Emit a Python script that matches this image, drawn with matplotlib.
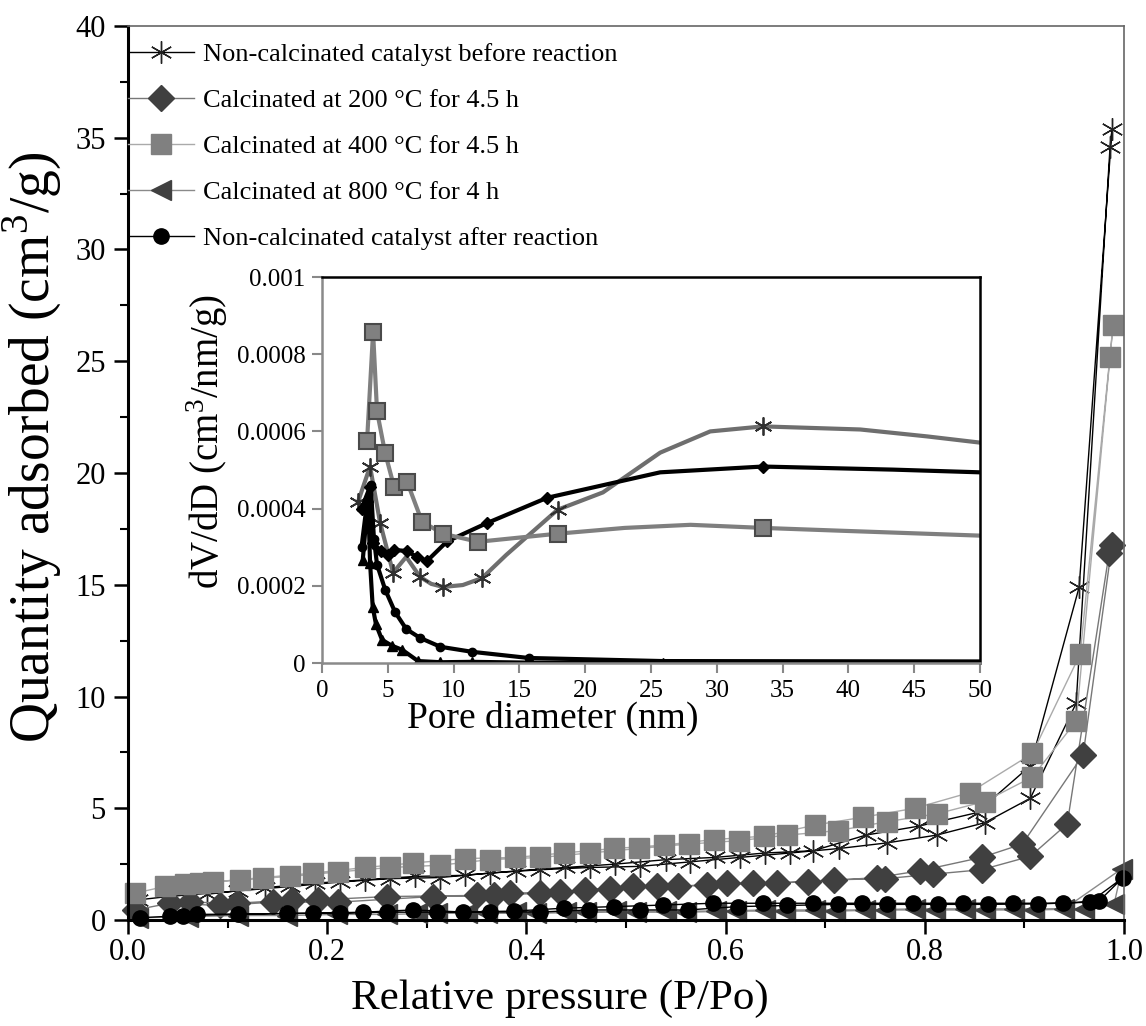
import matplotlib
matplotlib.use("Agg")
import matplotlib.pyplot as plt
from matplotlib.ticker import MultipleLocator

plt.rcParams['font.family'] = ['Liberation Serif', 'DejaVu Serif']
plt.rcParams['mathtext.fontset'] = 'custom'
plt.rcParams['mathtext.rm'] = 'Liberation Serif'

labels = ['Non-calcinated catalyst before reaction',
          'Calcinated at 200 °C for 4.5 h',
          'Calcinated at 400 °C for 4.5 h',
          'Calcinated at 800 °C for 4 h',
          'Non-calcinated catalyst after reaction']

# isotherms: adsorption branch then desorption branch (P/Po, cm3/g)
before_ads_x = [0.010, 0.040, 0.110, 0.163, 0.213, 0.263, 0.313, 0.363, 0.414, 0.464, 0.514, 0.564,
                0.614, 0.665, 0.714, 0.762, 0.812, 0.860, 0.906, 0.952, 0.986]
before_ads_y = [0.9, 1.05, 1.3, 1.5, 1.7, 1.85, 1.9, 2.1, 2.25, 2.35, 2.4, 2.6,
                2.8, 3.0, 3.2, 3.45, 3.8, 4.35, 5.45, 9.7, 34.6]
before_des_x = [0.988, 0.955, 0.906, 0.852, 0.794, 0.741, 0.688, 0.640, 0.589, 0.540, 0.489, 0.439,
                0.390, 0.338, 0.288, 0.238, 0.188, 0.138, 0.079]
before_des_y = [35.4, 14.9, 6.9, 4.8, 4.2, 3.8, 3.1, 3.0, 2.8, 2.7, 2.5, 2.35,
                2.2, 2.0, 1.95, 1.8, 1.65, 1.45, 1.15]

c200_ads_x = [0.007, 0.042, 0.092, 0.146, 0.211, 0.306, 0.367, 0.414, 0.459, 0.507, 0.552, 0.601,
              0.652, 0.709, 0.760, 0.808, 0.857, 0.906, 0.943, 0.985]
c200_ads_y = [0.45, 0.75, 0.65, 0.8, 0.8, 1.05, 1.1, 1.2, 1.35, 1.5, 1.5, 1.65,
              1.65, 1.8, 1.85, 2.05, 2.25, 2.85, 4.3, 16.4]
c200_des_x = [0.988, 0.959, 0.898, 0.857, 0.795, 0.752, 0.683, 0.628, 0.581, 0.531, 0.484, 0.434,
              0.384, 0.350, 0.260, 0.191, 0.165, 0.109, 0.062]
c200_des_y = [16.8, 7.4, 3.4, 2.8, 2.2, 1.9, 1.7, 1.65, 1.55, 1.5, 1.4, 1.25,
              1.2, 1.1, 1.05, 0.9, 0.9, 0.75, 0.8]

c400_ads_x = [0.007, 0.037, 0.072, 0.112, 0.163, 0.211, 0.263, 0.313, 0.363, 0.414, 0.464, 0.513,
              0.563, 0.613, 0.662, 0.713, 0.762, 0.812, 0.860, 0.908, 0.952, 0.986]
c400_ads_y = [1.2, 1.5, 1.65, 1.8, 1.95, 2.15, 2.35, 2.45, 2.7, 2.8, 3.0, 3.2,
              3.4, 3.55, 3.8, 4.0, 4.4, 4.75, 5.3, 6.4, 8.9, 25.2]
c400_des_x = [0.989, 0.956, 0.908, 0.845, 0.790, 0.738, 0.690, 0.639, 0.588, 0.538, 0.488, 0.438,
              0.389, 0.338, 0.286, 0.238, 0.186, 0.136, 0.085, 0.057]
c400_des_y = [26.6, 11.9, 7.45, 5.7, 5.0, 4.6, 4.25, 3.75, 3.6, 3.35, 3.2, 3.0,
              2.8, 2.75, 2.55, 2.35, 2.1, 1.9, 1.7, 1.6]

c800_ads_x = [0.010, 0.060, 0.110, 0.160, 0.210, 0.260, 0.310, 0.360, 0.410, 0.460, 0.510, 0.560,
              0.610, 0.660, 0.710, 0.760, 0.810, 0.860, 0.910, 0.960, 0.990]
c800_ads_y = [0.1, 0.15, 0.2, 0.2, 0.25, 0.25, 0.3, 0.3, 0.3, 0.35, 0.35, 0.35,
              0.4, 0.4, 0.4, 0.45, 0.45, 0.45, 0.45, 0.5, 0.7]
c800_des_x = [0.998, 0.940, 0.890, 0.840, 0.790, 0.740, 0.690, 0.640, 0.590, 0.540, 0.490, 0.440,
              0.390, 0.340, 0.290]
c800_des_y = [2.3, 0.5, 0.5, 0.5, 0.5, 0.45, 0.45, 0.45, 0.4, 0.4, 0.4, 0.35,
              0.35, 0.3, 0.3]

after_ads_x = [0.012, 0.055, 0.110, 0.160, 0.213, 0.260, 0.310, 0.363, 0.414, 0.463, 0.514, 0.562,
               0.612, 0.662, 0.713, 0.762, 0.813, 0.863, 0.914, 0.966, 0.999]
after_ads_y = [0.1, 0.2, 0.25, 0.3, 0.3, 0.35, 0.35, 0.36, 0.36, 0.45, 0.45, 0.45,
               0.6, 0.65, 0.7, 0.7, 0.7, 0.7, 0.72, 0.8, 1.9]
after_des_x = [0.975, 0.939, 0.889, 0.838, 0.788, 0.737, 0.688, 0.638, 0.587, 0.537, 0.488, 0.438,
               0.388, 0.336, 0.286, 0.236, 0.186, 0.069, 0.042]
after_des_y = [0.85, 0.75, 0.75, 0.75, 0.75, 0.75, 0.75, 0.75, 0.75, 0.67, 0.6, 0.53,
               0.4, 0.36, 0.45, 0.35, 0.3, 0.25, 0.2]

# pore size distributions (nm, 1e-4 cm3/nm/g), with indices of the marked points
pd_before_x = [2.74, 3.65, 4.41, 5.40, 6.40, 7.45, 8.30, 9.20, 10.70, 12.16, 14.00, 16.00, 17.90,
               21.35, 25.70, 29.50, 33.50, 40.90, 46.00, 50.00]
pd_before_y = [4.18, 5.09, 3.64, 2.34, 2.75, 2.23, 2.05, 1.97, 2.02, 2.20, 2.80, 3.40, 3.97,
               4.42, 5.45, 6.00, 6.13, 6.05, 5.87, 5.71]
pd_before_marks = [0, 1, 2, 3, 5, 7, 9, 12, 16]

pd_200_x = [3.0, 3.65, 3.9, 4.5, 5.0, 5.5, 6.46, 7.2, 8.0, 9.5, 12.5, 17.1, 25.7, 33.5, 43.4, 50.0]
pd_200_y = [4.0, 4.57, 3.10, 2.90, 2.80, 2.93, 2.90, 2.75, 2.65, 3.15, 3.62, 4.28, 4.94, 5.09, 5.01, 4.94]
pd_200_marks = [0, 1, 2, 3, 4, 5, 6, 7, 8, 9, 10, 11, 13]

pd_400_x = [3.42, 3.88, 4.18, 4.79, 5.47, 6.46, 7.60, 9.19, 11.85, 17.90, 23.0, 28.0, 33.5, 40.0, 50.0]
pd_400_y = [5.74, 8.57, 6.52, 5.45, 4.57, 4.70, 3.66, 3.35, 3.14, 3.35, 3.50, 3.58, 3.50, 3.42, 3.30]
pd_400_marks = [0, 1, 2, 3, 4, 5, 6, 7, 8, 9, 12]

pd_800_x = [3.1, 3.5, 3.65, 3.85, 4.1, 4.56, 5.3, 6.1, 7.3, 9.0, 11.4, 15.7, 25.9, 50.0]
pd_800_y = [2.68, 4.3, 2.6, 1.46, 1.0, 0.6, 0.45, 0.34, 0.05, 0.02, 0.03, 0.01, 0.0, 0.0]
pd_800_marks = list(range(13))

pd_after_x = [3.0, 3.4, 3.7, 3.95, 4.18, 4.8, 5.55, 6.4, 7.45, 9.0, 11.4, 15.7, 25.9, 50.0]
pd_after_y = [3.0, 4.1, 4.6, 3.2, 2.55, 1.9, 1.32, 0.88, 0.65, 0.42, 0.29, 0.13, 0.05, 0.04]
pd_after_marks = list(range(12))

fig = plt.figure(figsize=(11.46, 10.26), dpi=100)
ax = fig.add_axes([0.1117, 0.1033, 0.8691, 0.8714])

asterisk = (6, 2, 0)
main_styles = [
    dict(color='black', lw=1.0, marker=asterisk, ms=16, mec='#222222', mew=1.0),
    dict(color='#777777', lw=1.0, marker='D', ms=13, mfc='#404040', mec='#404040'),
    dict(color='#aaaaaa', lw=1.0, marker='s', ms=14, mfc='#808080', mec='#808080'),
    dict(color='#8a8a8a', lw=1.0, marker='<', ms=14, mfc='#404040', mec='#404040'),
    dict(color='black', lw=1.0, marker='o', ms=11, mfc='black', mec='black'),
]
series = [
    (before_ads_x + before_des_x, before_ads_y + before_des_y),
    (c200_ads_x + c200_des_x, c200_ads_y + c200_des_y),
    (c400_ads_x + c400_des_x, c400_ads_y + c400_des_y),
    (c800_ads_x + c800_des_x, c800_ads_y + c800_des_y),
    (after_ads_x + after_des_x, after_ads_y + after_des_y),
]
for (xs, ys), st, lab in zip(series, main_styles, labels):
    ax.plot(xs, ys, label=lab, clip_on=False, **st)

ax.set_xlim(0, 1.0)
ax.set_ylim(0, 40)
ax.xaxis.set_major_locator(MultipleLocator(0.2))
ax.xaxis.set_minor_locator(MultipleLocator(0.1))
ax.yaxis.set_major_locator(MultipleLocator(5))
ax.yaxis.set_minor_locator(MultipleLocator(2.5))
ax.xaxis.set_major_formatter(lambda v, p: f'{v:.1f}')
ax.tick_params(which='major', direction='out', length=10, width=1.8, labelsize=22, pad=6)
ax.tick_params(axis='x', which='major', pad=3)
ax.tick_params(which='minor', direction='out', length=6, width=1.5)
for side in ['left', 'bottom']:
    ax.spines[side].set_linewidth(2.2)
for side in ['top', 'right']:
    ax.spines[side].set_linewidth(1.2)
    ax.spines[side].set_color('#666666')
ax.set_xlabel('Relative pressure (P/Po)', fontsize=31)
ax.xaxis.set_label_coords(0.434, -0.066)
ax.set_ylabel('Quantity adsorbed (cm$^3$/g)', fontsize=40)
ax.yaxis.set_label_coords(-0.064, 0.529)

leg = ax.legend(loc='upper left', bbox_to_anchor=(128 / 1146, 1 - 43 / 1026),
                bbox_transform=fig.transFigure, frameon=False, fontsize=19,
                handlelength=2.5, handletextpad=0.35, labelspacing=0.85,
                borderpad=0, borderaxespad=0)

# inset: pore size distribution
axin = fig.add_axes([0.281, 0.3538, 0.5741, 0.3762])
pd_series = [
    (pd_before_x, pd_before_y, pd_before_marks,
     dict(color='#6e6e6e', lw=3, marker=asterisk, ms=13, mec='#303030', mew=1.3)),
    (pd_200_x, pd_200_y, pd_200_marks,
     dict(color='black', lw=3, marker='D', ms=6, mfc='black', mec='black')),
    (pd_400_x, pd_400_y, pd_400_marks,
     dict(color='#7f7f7f', lw=3, marker='s', ms=12, mfc='#808080', mec='#4a4a4a', mew=1.5)),
    (pd_800_x, pd_800_y, pd_800_marks,
     dict(color='black', lw=3, marker='^', ms=7, mfc='black', mec='black')),
    (pd_after_x, pd_after_y, pd_after_marks,
     dict(color='black', lw=3, marker='o', ms=6, mfc='black', mec='black')),
]
for xs, ys, marks, st in pd_series:
    axin.plot(xs, [v * 1e-4 for v in ys], markevery=marks, **st)

axin.set_xlim(0, 50)
axin.set_ylim(0, 0.001)
axin.xaxis.set_major_locator(MultipleLocator(5))
axin.yaxis.set_major_locator(MultipleLocator(0.0002))
axin.yaxis.set_major_formatter(lambda v, p: '0' if v == 0 else f'{v:.4f}'.rstrip('0'))
axin.tick_params(direction='out', length=7, width=1.5, colors='#888888',
                 labelcolor='black', labelsize=18, pad=5)
for side in ['left', 'bottom']:
    axin.spines[side].set_color('#8a8a8a')
    axin.spines[side].set_linewidth(1.8)
for side in ['top', 'right']:
    axin.spines[side].set_color('black')
    axin.spines[side].set_linewidth(1.8)
axin.set_xlabel('Pore diameter (nm)', fontsize=27)
axin.xaxis.set_label_coords(0.35, -0.098)
axin.set_ylabel('dV/dD (cm$^3$/nm/g)', fontsize=28)
axin.yaxis.set_label_coords(-0.14, 0.574)

fig.savefig('out.png', dpi=100)
